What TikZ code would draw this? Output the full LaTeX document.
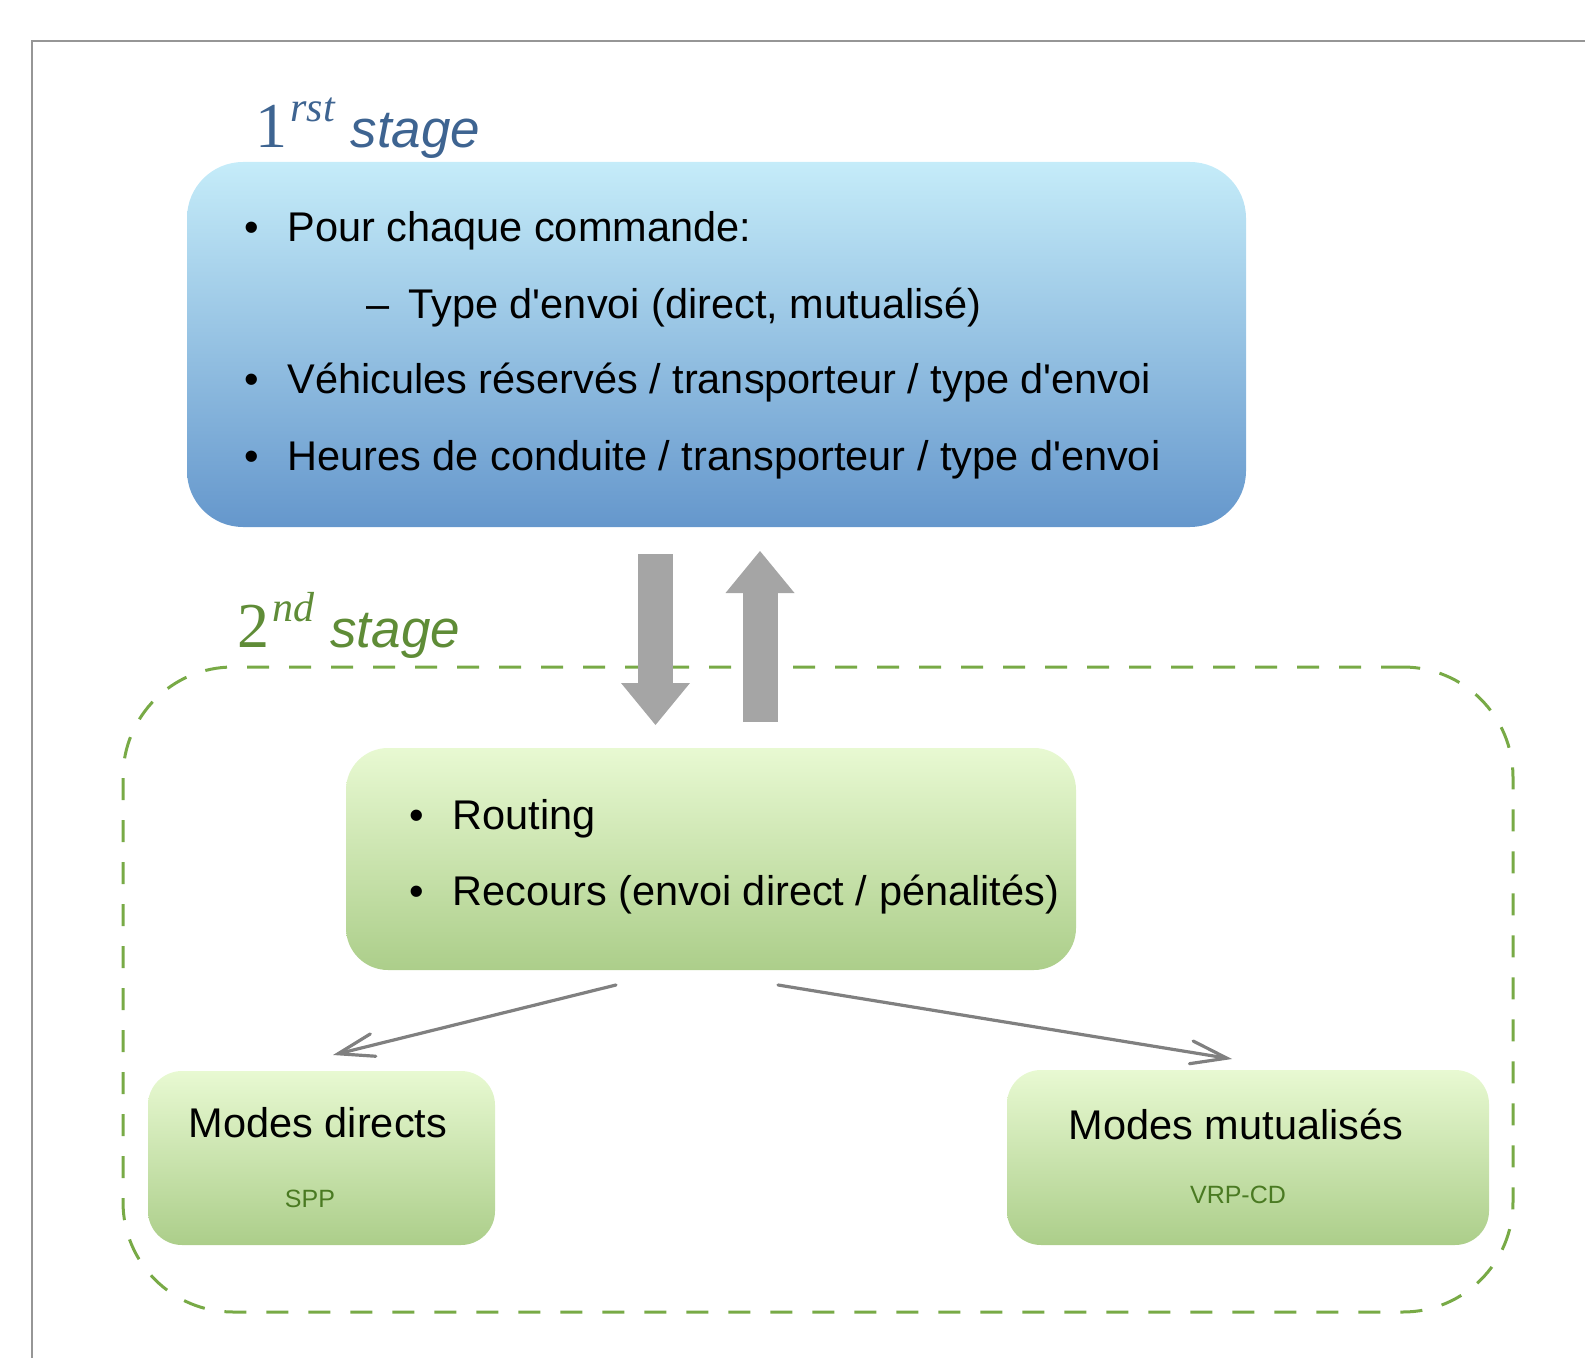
\documentclass[tikz,border=0pt]{standalone}
\usepackage{fontspec}
\setmainfont{Liberation Sans}
\newfontfamily\serifface{Liberation Serif}
\usepackage{xcolor}
\usepackage{tikz}
\usetikzlibrary{arrows.meta}
\usetikzlibrary{fit, positioning}

\definecolor{framegray}{RGB}{150,150,150}
\definecolor{arrowgray}{RGB}{165,165,165}
\definecolor{linegray}{RGB}{128,128,128}
\definecolor{headblue}{RGB}{62,100,145}
\definecolor{headgreen}{RGB}{95,140,55}
\definecolor{dashgreen}{RGB}{120,170,70}
\definecolor{sppgreen}{RGB}{74,122,34}
\definecolor{bluetop}{RGB}{197,236,249}
\definecolor{bluebot}{RGB}{101,151,204}
\definecolor{greentop}{RGB}{232,249,210}
\definecolor{greenbot}{RGB}{172,206,138}

\newcommand{\itemdot}{\llap{\textbullet\hspace{14pt}}}
\newcommand{\apos}{\textquotesingle}
\newcommand{\stagelabel}[2]{{\serifface\fontsize{32}{32}\selectfont #1}\hspace{1.5pt}\raisebox{13pt}{\serifface\itshape\fontsize{21}{21}\selectfont #2}\hspace{8pt}{\itshape\fontsize{26.5}{26.5}\selectfont stage}}

\tikzset{
  bluebox/.style={inner sep=0pt, rounded corners=28pt, top color=bluetop, bottom color=bluebot},
  greenbox/.style={inner sep=0pt, rounded corners=#1, top color=greentop, bottom color=greenbot},
  dashbox/.style={inner sep=0pt, draw=dashgreen, line width=1.5pt, dash pattern=on 11pt off 10pt, rounded corners=55pt},
  txt/.style={anchor=base west, inner sep=0pt},
  modetxt/.style={anchor=base, inner sep=0pt},
  subtxt/.style={anchor=base, inner sep=0pt, text=sppgreen, font=\fontsize{12.5}{14}\selectfont},
  bigarrow/.style={draw=arrowgray, line width=17.5pt, -{Triangle[length=21pt, width=34.5pt, line width=0pt]}},
  thinarrow/.style={draw=linegray, line width=1.6pt, line cap=round, -{Straight Barb[length=18pt, width=11.5pt, line cap=round]}}
}

\begin{document}
\begin{tikzpicture}[x=0.5pt, y=-0.5pt, font=\fontsize{20.75}{24}\selectfont]
  \useasboundingbox (0,0) rectangle (1585,1358);
  \draw[framegray, line width=1pt] (32,1358) -- (32,41) -- (1585,41);

  % first stage
  \node[txt, text=headblue] (head1) at (255,148) {\stagelabel{1}{rst}};
  \node[bluebox, fit={(187,162) (1246,527)}] (stage1) {};
  \node[txt] (pour) at (287,242) {\itemdot Pour chaque commande:};
  \node[txt] (envoi) at (408,319) {\llap{–\hspace{9.5pt}}Type d\apos envoi (direct, mutualisé)};
  \node[txt] (vehic) at (287,394) {\itemdot Véhicules réservés / transporteur / type d\apos envoi};
  \node[txt] (heures) at (287,471) {\itemdot Heures de conduite / transporteur / type d\apos envoi};

  % second stage
  \node[txt, text=headgreen] (head2) at (237,647) {\stagelabel{2}{nd}};
  \node[dashbox, fit={(123,667) (1513,1312)}] (stage2) {};
  \node[greenbox=21pt, fit={(346,748) (1076,970)}] (route) {};
  \node[txt] (routing) at (452,829) {\itemdot Routing};
  \node[txt] (recours) at (452,905) {\itemdot Recours (envoi direct / pénalités)};

  \node[greenbox=17pt, fit={(148,1071) (495,1245)}] (direct) {};
  \node[modetxt] (mdir) at (318,1137) {Modes directs};
  \node[subtxt] (spp) at (310,1207) {SPP};
  \node[greenbox=17pt, fit={(1007,1070) (1489,1245)}] (mutu) {};
  \node[modetxt] (mmut) at (1236,1139) {Modes mutualisés};
  \node[subtxt] (vrp) at (1238,1203) {VRP-CD};

  % arrows between stages
  \coordinate (downtop) at (655.5,554);
  \coordinate (downtip) at (655.5,725);
  \coordinate (upbot) at (760,722);
  \coordinate (uptip) at (760,551);
  \draw[bigarrow] (downtop) -- (downtip);
  \draw[bigarrow] (upbot) -- (uptip);

  \coordinate (lfrom) at (616,985);
  \coordinate (lto) at (333,1055);
  \coordinate (rfrom) at (778,985);
  \coordinate (rto) at (1232,1059);
  \draw[thinarrow] (lfrom) -- (lto);
  \draw[thinarrow] (rfrom) -- (rto);
\end{tikzpicture}
\end{document}
